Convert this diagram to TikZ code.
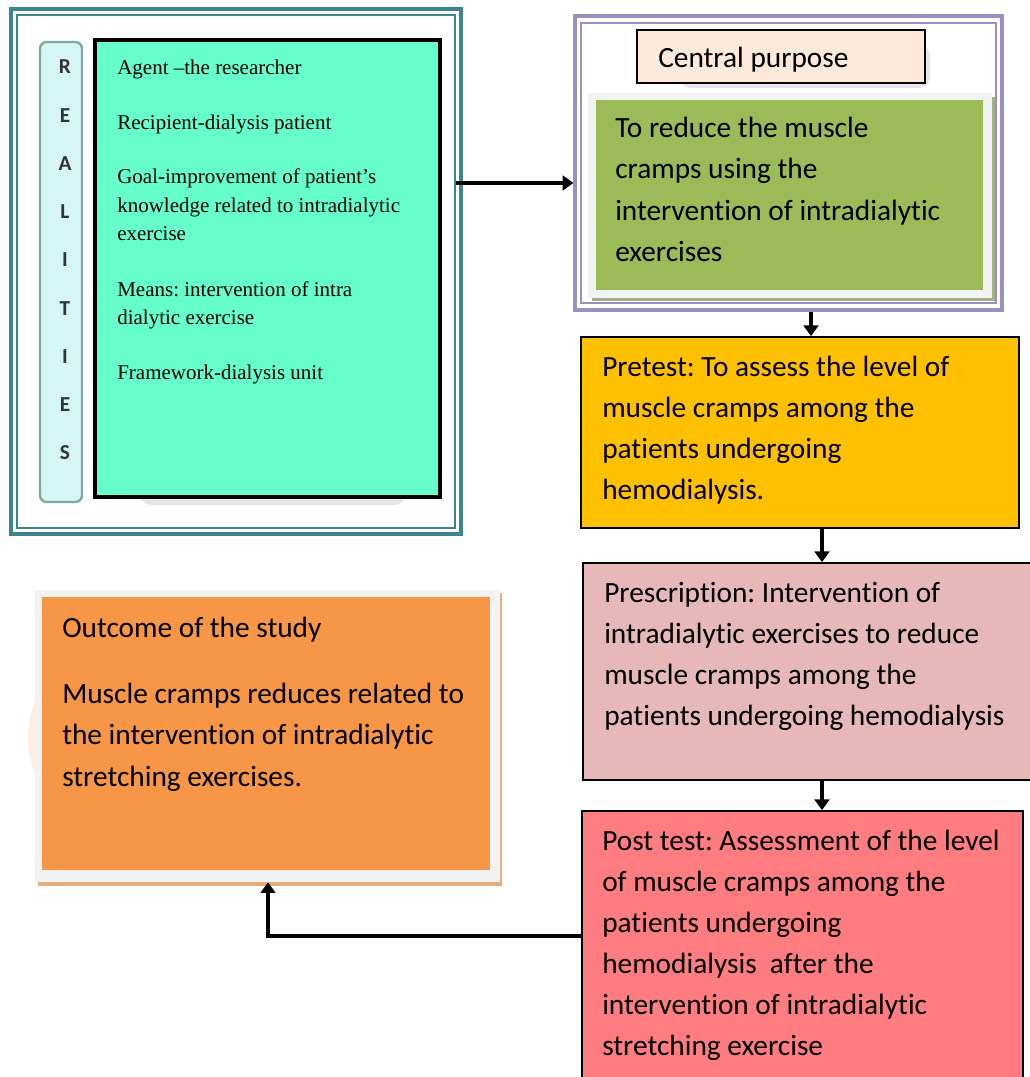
\documentclass[tikz,border=0pt]{standalone}
\usepackage{fontspec}
\setmainfont{Liberation Serif}
\newfontfamily\calib[RawFeature=-liga]{Carlito}
\usetikzlibrary{arrows.meta,fit}
\definecolor{tealfr}{HTML}{3A8590}
\definecolor{pillfill}{HTML}{D6F6F6}
\definecolor{pilldraw}{HTML}{7FA89F}
\definecolor{mint}{HTML}{66FFCC}
\definecolor{purfr}{HTML}{9D8FC0}
\definecolor{peach}{HTML}{FDE9D9}
\definecolor{olive}{HTML}{9BBB59}
\definecolor{ltgrey}{HTML}{F2F2F2}
\definecolor{amber}{HTML}{FFC000}
\definecolor{rosy}{HTML}{E6B8B7}
\definecolor{salmon}{HTML}{FF7C80}
\definecolor{orng}{HTML}{F79646}
\frenchspacing
\begin{document}
\begin{tikzpicture}[x=0.75pt,y=-0.75pt,
  boxr/.style={draw=black,line width=1.3pt,inner sep=0pt},
  plain/.style={inner sep=0pt},
  ctxt/.style={font=\calib\fontsize{22}{26}\selectfont,anchor=base west,inner sep=0pt},
  stxt/.style={font=\fontsize{15.75}{19}\selectfont,anchor=base west,inner sep=0pt},
  rtxt/.style={font=\calib\bfseries\fontsize{16}{18}\selectfont,text=black!80,inner sep=0pt},
  conn/.style={line width=2.9pt,-{Triangle[length=8pt,width=11pt]}}
]
\useasboundingbox (0,0) rectangle (1030,1077);
\fill[white] (0,0) rectangle (1030,1077);

% ---------- left realities frame ----------
\node[plain,draw=tealfr,line width=3pt,fit={(11,9) (461,534)}] (tealout) {};
\draw[tealfr,line width=1.5pt] (17,15) rectangle (455,528);
\fill[fill=black!10,rounded corners=8pt] (140,480) rectangle (405,505);
\node[plain,draw=pilldraw,fill=pillfill,line width=1.8pt,rounded corners=5pt,fit={(40,42) (82,502)}] (pill) {};
\foreach \L [count=\i from 0] in {R,E,A,L,I,T,I,E,S}
  \node[rtxt] (r\i) at (65,{67+48.25*\i}) {\L};
\node[boxr,fill=mint,line width=2.4pt,fit={(95,40) (440,497)}] (agent) {};
\node[stxt] (a1) at (117,75) {Agent –the researcher};
\node[stxt] (a2) at (117,130) {Recipient-dialysis patient};
\node[stxt] (a3) at (117,184) {Goal-improvement of patient’s};
\node[stxt] (a4) at (117,212) {knowledge related to intradialytic};
\node[stxt] (a5) at (117,240) {exercise};
\node[stxt] (a6) at (117,296) {Means: intervention of intra};
\node[stxt] (a7) at (117,324) {dialytic exercise};
\node[stxt] (a8) at (117,379) {Framework-dialysis unit};

% ---------- central purpose frame ----------
\node[plain,draw=purfr,line width=2.4pt,fit={(575,16) (1002,310)}] (purout) {};
\draw[purfr,line width=1.5pt] (581,23) rectangle (996,303);
\fill[purfr!25,rounded corners=8pt] (680,45) rectangle (930,88);
\node[boxr,fill=peach,line width=1.2pt,fit={(637,30) (925,83)}] (cp) {};
\node[ctxt] (cpt) at (658,68) {Central purpose};
\fill[black!35!olive!60] (592,97) rectangle (995,301);
\node[plain,fill=ltgrey,fit={(588,93) (992,298)}] (gframe) {};
\node[plain,fill=olive,fit={(596,100) (983,290)}] (goal) {};
\node[ctxt] (g1) at (615,138) {To reduce the muscle};
\node[ctxt] (g2) at (615,179) {cramps using the};
\node[ctxt] (g3) at (615,220) {intervention of intradialytic};
\node[ctxt] (g4) at (615,261) {exercises};

% ---------- pretest ----------
\node[boxr,fill=amber,fit={(581,337) (1019,528)}] (pre) {};
\node[ctxt] (p1) at (602,376) {Pretest: To assess the level of};
\node[ctxt] (p2) at (602,417) {muscle cramps among the};
\node[ctxt] (p3) at (602,458) {patients undergoing};
\node[ctxt] (p4) at (602,499) {hemodialysis.};

% ---------- prescription ----------
\node[boxr,fill=rosy,fit={(583,563) (1036,780)}] (presc) {};
\node[ctxt] (q1) at (604,602) {Prescription: Intervention of};
\node[ctxt] (q2) at (604,643) {intradialytic exercises to reduce};
\node[ctxt] (q3) at (604,684) {muscle cramps among the};
\node[ctxt] (q4) at (604,725) {patients undergoing hemodialysis};

% ---------- post test ----------
\node[boxr,fill=salmon,fit={(582,811) (1023,1085)}] (post) {};
\node[ctxt] (s1) at (602,850) {Post test: Assessment of the level};
\node[ctxt] (s2) at (602,891) {of muscle cramps among the};
\node[ctxt] (s3) at (602,932) {patients undergoing};
\node[ctxt] (s4) at (602,973) {hemodialysis\ \ after the};
\node[ctxt] (s5) at (602,1014) {intervention of intradialytic};
\node[ctxt] (s6) at (602,1055) {stretching exercise};

% ---------- outcome ----------
\fill[orng!15] (260,738) ellipse [x radius=232, y radius=148];
\fill[brown!55!orng!70] (38,593) rectangle (502,886);
\node[plain,fill=ltgrey,fit={(35,590) (500,882)}] (oframe) {};
\node[plain,fill=orng,fit={(42,597) (490,870)}] (out) {};
\node[ctxt] (o1) at (62,637) {Outcome of the study};
\node[ctxt] (o2) at (62,703) {Muscle cramps reduces related to};
\node[ctxt] (o3) at (62,744) {the intervention of intradialytic};
\node[ctxt] (o4) at (62,786) {stretching exercises.};

% ---------- connectors ----------
\coordinate (bend) at (268,936);
\draw[conn] (456,183) -- (purout.west |- 0,183);
\draw[conn] (purout.south -| 811,0) -- (pre.north -| 811,0);
\draw[conn] (pre.south -| 822,0) -- (presc.north -| 822,0);
\draw[conn] (presc.south -| 822,0) -- (post.north -| 822,0);
\draw[conn] (post.west |- bend) -- (bend) -- (oframe.south -| bend);
\end{tikzpicture}
\end{document}
